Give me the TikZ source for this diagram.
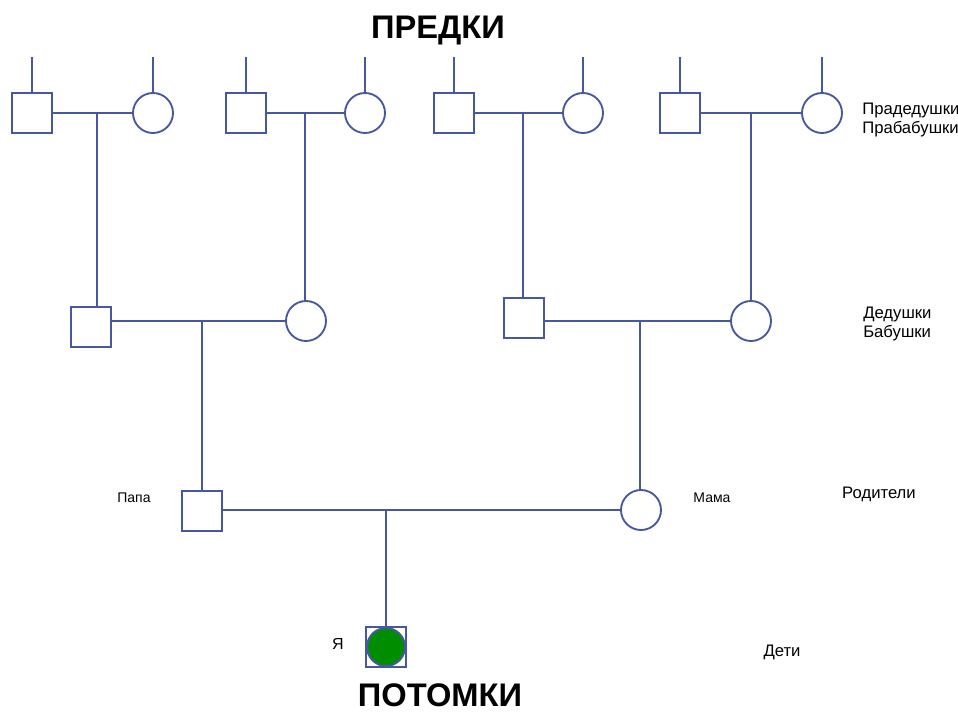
\documentclass[tikz,border=0pt]{standalone}
\usepackage{fontspec}
\setmainfont{Liberation Sans}
\definecolor{kin}{RGB}{72,88,160}
\definecolor{megreen}{RGB}{0,142,0}

\begin{document}
\begin{tikzpicture}[x=0.75pt, y=-0.75pt,
    man/.style={draw=kin, line width=1.4pt, minimum size=30pt, inner sep=0pt, fill=white},
    woman/.style={man, circle},
    link/.style={draw=kin, line width=1.4pt},
    lbl/.style={inner sep=0pt, font=\fontsize{12.5}{14.25}\selectfont, align=left}]
    \useasboundingbox (0,0) rectangle (958,712);

    % Great-grandparents
    \node[man]   (pd1) at (32,113)  {};
    \node[woman] (pb1) at (153,113) {};
    \node[man]   (pd2) at (246,113) {};
    \node[woman] (pb2) at (365,113) {};
    \node[man]   (pd3) at (454,113) {};
    \node[woman] (pb3) at (583,113) {};
    \node[man]   (pd4) at (680,113) {};
    \node[woman] (pb4) at (822,113) {};

    % Grandparents
    \node[man]   (d1) at (91,327)  {};
    \node[woman] (b1) at (306,321) {};
    \node[man]   (d2) at (524,318) {};
    \node[woman] (b2) at (751,321) {};

    % Parents and me
    \node[man]   (papa) at (202,511) {};
    \node[woman] (mama) at (641,510) {};
    \node[man]   (me) at (386,647) {};
    \node[woman, fill=megreen, minimum size=28.5pt] (medot) at (me) {};

    % Lines going further up
    \foreach \n in {pd1,pb1,pd2,pb2,pd3,pb3,pd4,pb4}
        \draw[link] (\n.north) -- ++(0,-35);

    % Couples of great-grandparents and their children
    \coordinate (c1) at (97,113);
    \coordinate (c2) at (305,113);
    \coordinate (c3) at (523,113);
    \coordinate (c4) at (751,113);
    \draw[link] (pd1) -- (pb1);
    \draw[link] (pd2) -- (pb2);
    \draw[link] (pd3) -- (pb3);
    \draw[link] (pd4) -- (pb4);
    \draw[link] (c1) -- (c1 |- d1.north);
    \draw[link] (c2) -- (c2 |- b1.north);
    \draw[link] (c3) -- (c3 |- d2.north);
    \draw[link] (c4) -- (c4 |- b2.north);

    % Couples of grandparents and their children
    \coordinate (g1) at (202,321);
    \coordinate (g2) at (640,321);
    \draw[link] (b1.west -| d1.east) -- (b1.west);
    \draw[link] (b2.west -| d2.east) -- (b2.west);
    \draw[link] (g1) -- (g1 |- papa.north);
    \draw[link] (g2) -- (g2 |- mama.north);

    % Parents and me
    \coordinate (p) at (386,510);
    \draw[link] (mama.west -| papa.east) -- (mama.west);
    \draw[link] (p) -- (p |- me.north);

    % Titles
    \node[anchor=base, inner sep=0pt, font=\fontsize{24.5}{28}\selectfont\bfseries] (top) at (438,39) {ПРЕДКИ};
    \node[anchor=base, inner sep=0pt, font=\fontsize{24.5}{28}\selectfont\bfseries] (bottom) at (440,707) {ПОТОМКИ};

    % Labels
    \node[lbl, anchor=north west] (gen1) at (862,103) {Прадедушки\\Прабабушки};
    \node[lbl, anchor=north west] (gen2) at (863,307) {Дедушки\\Бабушки};
    \node[lbl, anchor=base] (gen3) at (879,499) {Родители};
    \node[lbl, anchor=base] (gen4) at (782,657) {Дети};
    \node[lbl, anchor=base, font=\fontsize{10.5}{12}\selectfont] (lpapa) at (134,503) {Папа};
    \node[lbl, anchor=base, font=\fontsize{10.5}{12}\selectfont] (lmama) at (712,503) {Мама};
    \node[lbl, anchor=base, font=\fontsize{12}{14}\selectfont] (lme) at (338,650) {Я};

\end{tikzpicture}
\end{document}
